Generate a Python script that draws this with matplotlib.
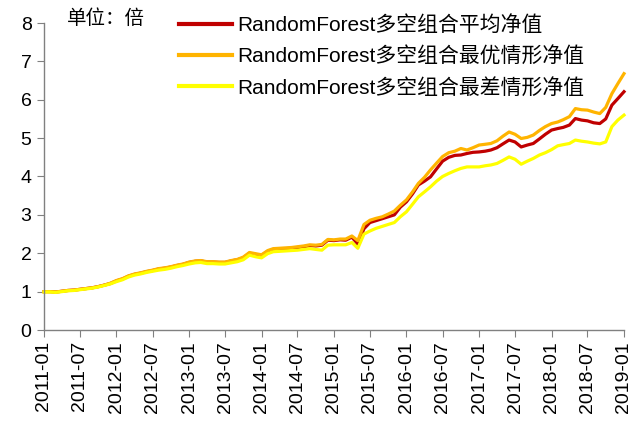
import matplotlib
matplotlib.use("Agg")
import matplotlib.pyplot as plt
import matplotlib.dates as mdates
import pandas as pd

plt.rcParams['font.family'] = ['Liberation Sans', 'Noto Sans CJK SC']

# monthly observation dates, 2011-01 .. 2019-01
dates = pd.date_range("2011-01-01", "2019-01-01", freq="MS")

avg_nav = [1.00, 1.00, 0.99, 1.01, 1.03, 1.04, 1.06, 1.08, 1.10, 1.13, 1.17, 1.21,
           1.28, 1.33, 1.40, 1.45, 1.48, 1.52, 1.55, 1.59, 1.61, 1.64, 1.68, 1.71,
           1.76, 1.79, 1.80, 1.77, 1.77, 1.76, 1.76, 1.80, 1.83, 1.88, 2.00, 1.97,
           1.94, 2.05, 2.10, 2.11, 2.12, 2.13, 2.15, 2.17, 2.20, 2.19, 2.21, 2.34,
           2.33, 2.35, 2.34, 2.42, 2.24, 2.64, 2.80, 2.85, 2.90, 2.95, 3.00, 3.20,
           3.34, 3.55, 3.78, 3.88, 3.99, 4.20, 4.40, 4.50, 4.55, 4.56, 4.60, 4.63,
           4.64, 4.66, 4.69, 4.75, 4.85, 4.95, 4.90, 4.77, 4.82, 4.86, 4.98, 5.10,
           5.21, 5.25, 5.28, 5.34, 5.51, 5.47, 5.45, 5.40, 5.38, 5.50, 5.86, 6.03,
           6.21]

best_nav = [1.00, 1.00, 0.99, 1.01, 1.03, 1.04, 1.06, 1.08, 1.10, 1.13, 1.17, 1.22,
            1.29, 1.34, 1.41, 1.46, 1.49, 1.53, 1.56, 1.60, 1.62, 1.65, 1.69, 1.72,
            1.77, 1.80, 1.81, 1.78, 1.78, 1.77, 1.77, 1.81, 1.84, 1.90, 2.02, 1.99,
            1.96, 2.07, 2.12, 2.13, 2.14, 2.15, 2.17, 2.19, 2.22, 2.21, 2.23, 2.36,
            2.35, 2.37, 2.37, 2.45, 2.33, 2.75, 2.86, 2.91, 2.95, 3.02, 3.10, 3.25,
            3.39, 3.60, 3.82, 3.98, 4.17, 4.35, 4.52, 4.62, 4.66, 4.73, 4.69, 4.75,
            4.82, 4.84, 4.86, 4.93, 5.05, 5.16, 5.10, 4.99, 5.02, 5.08, 5.20, 5.30,
            5.38, 5.42, 5.48, 5.56, 5.77, 5.74, 5.73, 5.68, 5.64, 5.80, 6.16, 6.42,
            6.68]

worst_nav = [0.99, 0.99, 0.98, 1.00, 1.02, 1.03, 1.05, 1.07, 1.09, 1.12, 1.16, 1.20,
             1.26, 1.31, 1.38, 1.43, 1.46, 1.50, 1.53, 1.56, 1.58, 1.61, 1.65, 1.68,
             1.72, 1.75, 1.76, 1.73, 1.73, 1.72, 1.72, 1.75, 1.78, 1.83, 1.95, 1.91,
             1.88, 1.99, 2.04, 2.05, 2.06, 2.07, 2.08, 2.10, 2.12, 2.10, 2.08, 2.21,
             2.22, 2.22, 2.22, 2.28, 2.13, 2.50, 2.58, 2.65, 2.70, 2.75, 2.80, 2.95,
             3.08, 3.28, 3.47, 3.60, 3.73, 3.88, 4.00, 4.08, 4.15, 4.21, 4.25, 4.25,
             4.25, 4.28, 4.30, 4.34, 4.42, 4.51, 4.45, 4.32, 4.40, 4.47, 4.56, 4.62,
             4.70, 4.80, 4.83, 4.86, 4.95, 4.92, 4.90, 4.87, 4.85, 4.90, 5.30, 5.47,
             5.60]

labels = ["RandomForest多空组合平均净值",
          "RandomForest多空组合最优情形净值",
          "RandomForest多空组合最差情形净值"]
colors = ["#C00000", "#FFB400", "#FFFF00"]

fig = plt.figure(figsize=(6.33, 4.23), dpi=100)
ax = fig.add_axes([44/633, 1-330/423, (624-44)/633, (330-23)/423])

for vals, lab, col in zip([avg_nav, best_nav, worst_nav], labels, colors):
    ax.plot(dates, vals, color=col, lw=2.3, label=lab, clip_on=False)

ax.set_ylim(0, 8)
ax.set_yticks(range(0, 9))
ax.set_xlim(pd.Timestamp("2011-01-01"), pd.Timestamp("2019-01-01"))
ticks = pd.date_range("2011-01-01", "2019-01-01", freq="6MS")
ax.set_xticks(ticks)
ax.xaxis.set_major_formatter(mdates.DateFormatter("%Y-%m"))
for s in ["top", "right"]:
    ax.spines[s].set_visible(False)
for s in ["left", "bottom"]:
    ax.spines[s].set_color("#808080")
    ax.spines[s].set_linewidth(1.0)
ax.tick_params(axis="both", direction="out", length=5, color="#808080",
               labelsize=14, labelcolor="black")
ax.tick_params(axis="x", labelrotation=90, pad=3)
ax.tick_params(axis="y", pad=4)

leg = fig.legend(loc="upper left", bbox_to_anchor=(179/633, 1-15/423),
                 frameon=False, fontsize=15, handlelength=2.55,
                 handletextpad=0.25, labelspacing=0.55, borderpad=0,
                 borderaxespad=0)
for h in leg.get_lines():
    h.set_linewidth(3)

fig.text(67/633, 1-18/423, "单位：倍", fontsize=14, va="center", ha="left",
         family=["Noto Sans CJK SC"])

fig.savefig("out.png", dpi=100)
